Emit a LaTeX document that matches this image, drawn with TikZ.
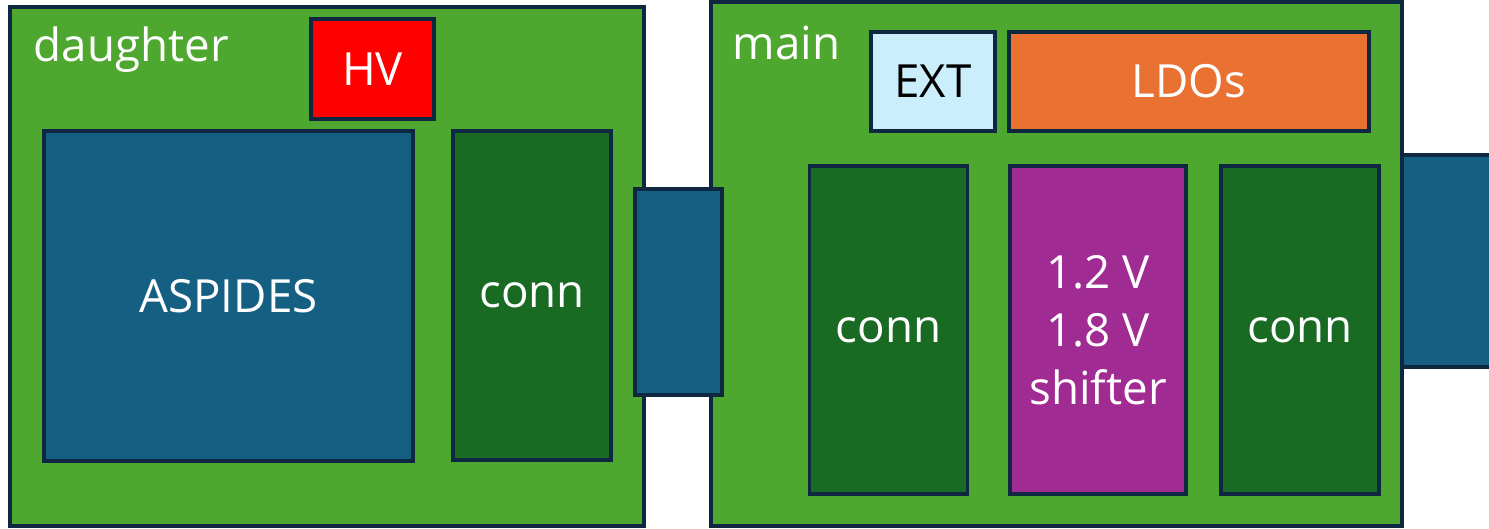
\documentclass[tikz,border=0pt]{standalone}
\usepackage{fontspec}
\setmainfont{Open Sans}
\usetikzlibrary{positioning}

\definecolor{boardgreen}{HTML}{4EA72E}
\definecolor{conngreen}{HTML}{196B24}
\definecolor{chipblue}{HTML}{156082}
\definecolor{edgeblue}{HTML}{0E2841}
\definecolor{extblue}{HTML}{CAEEFB}
\definecolor{ldoorange}{HTML}{E97132}
\definecolor{shiftpurple}{HTML}{A02B93}

\tikzset{
  block/.style={draw=edgeblue, line width=1.1pt, rectangle, inner sep=0pt,
    text=white, font=\fontsize{13}{16.5}\selectfont, align=center},
  board/.style={block, fill=boardgreen},
  connbox/.style={block, fill=conngreen, minimum width=1.58cm},
  plug/.style={block, fill=chipblue},
  boardlabel/.style={text=white, font=\fontsize{13}{16.5}\selectfont, anchor=west, inner sep=0pt}
}

\begin{document}
\begin{tikzpicture}
  \useasboundingbox (0,0) rectangle (14.89,5.28);

  % daughter board
  \node[board, minimum width=6.34cm, minimum height=5.19cm] (daughter) at (3.27,2.615) {};
  \node[boardlabel] (daughterlbl) at (0.33,4.78) {daughter};
  \node[block, fill=red, minimum width=1.23cm, minimum height=1.0cm] (hv) at (3.725,4.59) {HV};
  \node[block, fill=chipblue, minimum width=3.69cm, minimum height=3.30cm] (aspides) at (2.285,2.32) {ASPIDES};
  \node[connbox, minimum height=3.29cm] (dconn) at (5.32,2.325) {conn};

  % main board
  \node[board, minimum width=6.91cm, minimum height=5.24cm] (main) at (10.565,2.64) {};
  \node[boardlabel] (mainlbl) at (7.32,4.85) {main};
  \node[block, fill=extblue, text=black, minimum width=1.24cm, minimum height=0.99cm] (ext) at (9.33,4.465) {EXT};
  \node[block, fill=ldoorange, minimum width=3.60cm, minimum height=0.99cm] (ldo) at (11.89,4.465) {LDOs};
  \node[connbox, minimum height=3.28cm] (mconnl) at (8.885,1.98) {conn};
  \node[block, fill=shiftpurple, minimum width=1.76cm, minimum height=3.28cm] (shifter) at (10.98,1.98) {1.2 V\\1.8 V\\shifter};
  \node[connbox, minimum height=3.28cm] (mconnr) at (13.0,1.98) {conn};

  % board-to-board plugs
  \node[plug, minimum width=0.87cm, minimum height=2.06cm] (midplug) at (6.785,2.36) {};
  \node[plug, minimum width=1.0cm, minimum height=2.12cm] (outplug) at (14.52,2.67) {};
\end{tikzpicture}
\end{document}
